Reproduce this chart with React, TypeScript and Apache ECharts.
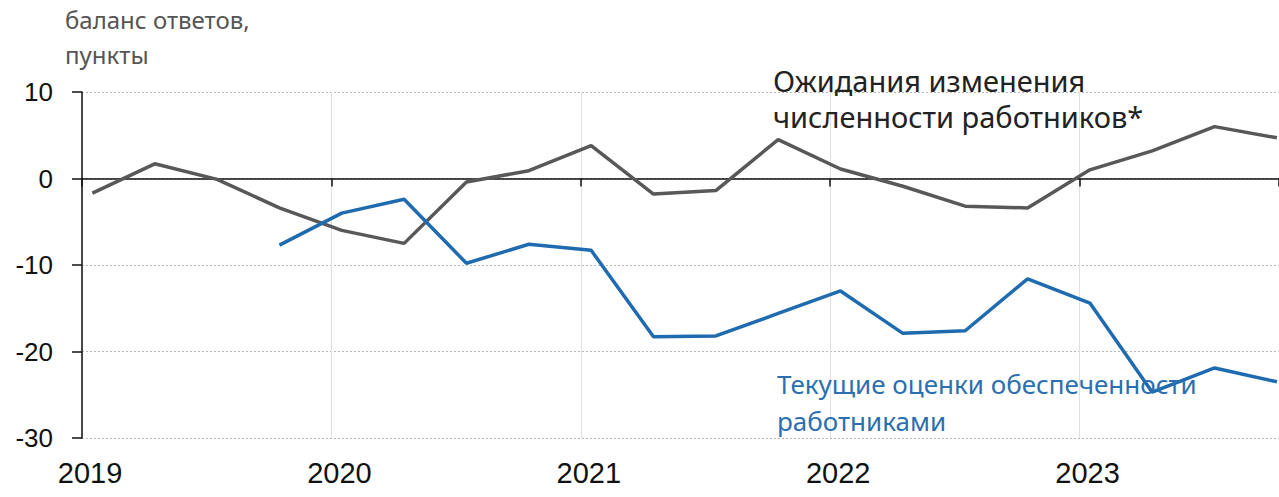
import React, { useEffect, useRef } from "react";
import * as echarts from "echarts";

const quarters = [
  "2019Q1", "2019Q2", "2019Q3", "2019Q4",
  "2020Q1", "2020Q2", "2020Q3", "2020Q4",
  "2021Q1", "2021Q2", "2021Q3", "2021Q4",
  "2022Q1", "2022Q2", "2022Q3", "2022Q4",
  "2023Q1", "2023Q2", "2023Q3", "2023Q4",
];

// Ожидания изменения численности работников* (2019Q1..2023Q4)
const expectations = [
  -1.7, 1.7, -0.1, -3.4,
  -6.0, -7.5, -0.4, 0.9,
  3.8, -1.8, -1.4, 4.5,
  1.1, -0.9, -3.2, -3.4,
  1.0, 3.2, 6.0, 4.7,
];

// Текущие оценки обеспеченности работниками (2019Q4..2023Q4)
const staffing = [
  null, null, null, -7.7,
  -4.0, -2.4, -9.8, -7.6,
  -8.3, -18.3, -18.2, -15.6,
  -13.0, -17.9, -17.6, -11.6,
  -14.4, -24.7, -21.9, -23.5,
];

const yTicks = [10, 0, -10, -20, -30];
const years = [2019, 2020, 2021, 2022, 2023];

function quarterToX(q: string): number {
  const y = parseInt(q.slice(0, 4), 10);
  const k = parseInt(q.slice(5), 10) - 1;
  return y + (k * 3 + 0.5) / 12;
}

export default function App() {
  const ref = useRef<HTMLDivElement>(null);
  useEffect(() => {
    if (!ref.current) return;
    const chart = echarts.init(ref.current, null, { renderer: "svg" });
    const grayData = quarters.map((q, i) => [quarterToX(q), expectations[i]]);
    const blueData = quarters
      .map((q, i) => [quarterToX(q), staffing[i]])
      .filter((d) => d[1] !== null);
    const xMin = years[0];
    const xMax = 2023.8;
    chart.setOption({
      animation: false,
      backgroundColor: "#ffffff",
      grid: { left: 82, right: -3, top: 92, bottom: 59, containLabel: false },
      xAxis: [
        {
          type: "value",
          min: xMin,
          max: xMax,
          interval: 1,
          position: "bottom",
          axisLine: { show: false, onZero: false },
          axisTick: { show: false },
          splitLine: { show: true, lineStyle: { color: "#e0e0e0", width: 1 } },
          axisLabel: {
            show: true,
            margin: 20,
            fontFamily: "Liberation Sans, Arial",
            fontSize: 29,
            color: "#111",
            padding: [0, 0, 0, 16],
            showMaxLabel: false,
            formatter: (v: number) => (years.includes(Math.round(v)) && Math.abs(v - Math.round(v)) < 1e-6 ? String(Math.round(v)) : ""),
          },
        },
        {
          type: "value",
          min: xMin,
          max: xMax,
          interval: 1,
          position: "bottom",
          axisLine: { show: true, onZero: true, lineStyle: { color: "#111", width: 1.5 } },
          axisTick: { show: true, inside: false, length: 8, lineStyle: { color: "#111", width: 1.5 } },
          splitLine: { show: false },
          axisLabel: { show: false },
        },
      ],
      yAxis: {
        type: "value",
        min: -30,
        max: 10,
        interval: 10,
        axisLine: { show: true, onZero: false, lineStyle: { color: "#111", width: 1.5 } },
        axisTick: { show: true, length: 10, lineStyle: { color: "#111", width: 1.5 } },
        splitLine: { show: true, lineStyle: { color: "#b8b8b8", width: 1, type: [2, 2] } },
        axisLabel: {
          margin: 29,
          fontFamily: "Liberation Sans, Arial",
          fontSize: 26,
          color: "#111",
          formatter: (v: number) => (yTicks.includes(v) ? String(v) : ""),
        },
      },
      series: [
        {
          name: "Ожидания изменения численности работников*",
          type: "line",
          xAxisIndex: 0,
          data: grayData,
          showSymbol: false,
          clip: false,
          lineStyle: { color: "#585858", width: 3.5 },
          z: 3,
        },
        {
          name: "Текущие оценки обеспеченности работниками",
          type: "line",
          xAxisIndex: 0,
          data: blueData,
          showSymbol: false,
          clip: false,
          lineStyle: { color: "#1f6bb0", width: 3.5 },
          z: 4,
        },
      ],
      graphic: [
        {
          type: "text",
          left: 65,
          top: 2,
          style: {
            text: "баланс ответов,\nпункты",
            font: "24px 'Noto Sans'",
            fill: "#555",
            lineHeight: 35,
          },
        },
        {
          type: "text",
          left: 773,
          top: 62,
          z: 10,
          style: {
            text: "Ожидания изменения\nчисленности работников*",
            font: "29px 'Noto Sans'",
            fill: "#222",
            lineHeight: 36,
          },
        },
        {
          type: "text",
          left: 777,
          top: 365,
          z: 10,
          style: {
            text: "Текущие оценки обеспеченности\nработниками",
            font: "26px 'Noto Sans'",
            fill: "#2b6fb0",
            lineHeight: 37,
          },
        },
      ],
    });
    return () => chart.dispose();
  }, []);
  return (
    <div
      ref={ref}
      style={{ position: "fixed", left: 0, top: 0, width: 1279, height: 497 }}
    />
  );
}
